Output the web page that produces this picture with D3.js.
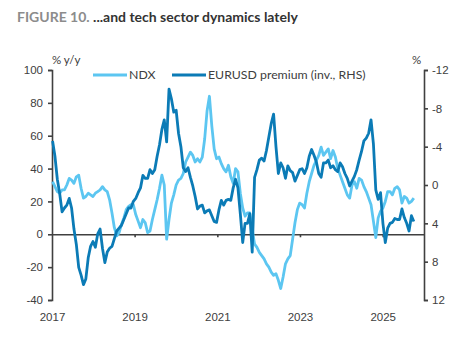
<!DOCTYPE html>
<html>
<head>
<meta charset="utf-8">
<script src="https://cdn.jsdelivr.net/npm/d3@7"></script>
<style>
  body { margin: 0; background: #fff; }
  svg { display: block; font-family: Lato, "Open Sans", sans-serif; }
  .axis text { font-size: 11.5px; fill: #404040; }
  .axis path, .axis line { stroke: #404040; stroke-width: 1.6px; }
</style>
</head>
<body>
<div id="chart"></div>
<script>
// 3-weekly observations starting 2017-01-06
const startDate = '2017-01-06';
const stepDays = 21;

// NDX, % y/y (left axis)
const ndx = [
  32, 29, 26, 25, 27, 27, 30, 34, 33, 31, 35, 36, 28, 22, 23, 25, 24, 23, 25, 26,
  27, 29, 27, 26, 21, 13, 4, -1, 1, 6, 10, 15, 17, 18, 18, 12, 8, 4, 9, 7,
  1, 2, 9, 15, 21, 28, 36, 30, -3, 9, 19, 24, 30, 33, 34, 37, 44, 47, 50, 48,
  44, 46, 44, 47, 58, 75, 84, 66, 52, 46, 47, 43, 40, 38, 42, 35, 31, 40, 38, 25,
  16, 11, 13, 13, 3, -6, -8, -11, -13, -15, -18, -20, -23, -25, -24, -28, -33, -26, -18, -15,
  -13, -3, 7, 15, 19, 18, 16, 25, 32, 37, 42, 45, 48, 53, 48, 50, 52, 46, 51, 47,
  40, 36, 32, 28, 24, 22, 30, 32, 28, 34, 33, 29, 26, 22, 18, 8, -2, 10, 14, 16,
  20, 26, 26, 24, 28, 29, 27, 19, 23, 22, 19, 20, 22
];

// EURUSD premium, % (right axis, inverted)
const eurusd = [
  -4.6, -3.0, -0.6, 0.9, 2.8, 2.4, 2.1, 1.4, 2.4, 4.6, 6.2, 8.6, 9.4, 10.4, 9.8, 7.6, 6.4, 5.9, 6.5, 5.1,
  4.6, 6.6, 8.1, 7.0, 6.6, 6.4, 5.6, 4.8, 4.5, 4.2, 3.6, 3.0, 2.4, 2.4, 1.7, 1.4, 0.8, 0.3, -1.0, -0.7,
  -0.7, -1.6, -1.2, -1.6, -3.0, -4.2, -5.8, -6.8, -4.5, -10.0, -9.0, -7.6, -7.8, -5.4, -4.0, -1.8, -1.4, -1.8, -0.8, 0.1,
  1.2, 2.5, 2.2, 2.1, 2.9, 2.7, 2.6, 3.2, 3.8, 3.9, 2.6, 1.6, 2.1, 1.6, 1.5, 1.6, 0.3, -0.6, 0.3, 3.0,
  6.0, 4.0, 4.0, 3.0, 7.0, -0.8, -1.6, -2.6, -2.8, -2.5, -3.6, -5.0, -6.4, -7.4, -4.0, -1.2, -2.3, -1.8, -0.7, -2.0,
  -1.5, -1.3, -0.4, -1.0, -1.6, -1.7, -1.2, -1.8, -3.0, -3.7, -3.1, -2.4, -1.2, -0.8, -2.3, -2.3, -2.6, -1.8, -2.0, -1.6,
  -1.4, -2.3, -1.9, -1.2, -0.7, 0.1, -0.4, -0.9, -1.6, -2.6, -3.5, -4.6, -4.9, -5.4, -6.8, -4.3, 0.5, 1.5, 0.8, 4.0,
  6.0, 4.5, 4.0, 3.9, 3.5, 3.6, 3.6, 2.5, 3.4, 4.0, 4.8, 3.2, 3.8
];

const leftTicks = [-40, -20, 0, 20, 40, 60, 80, 100];
const rightTicks = [-12, -8, -4, 0, 4, 8, 12];
const yearLabels = [2017, 2019, 2021, 2023, 2025];
const seriesNames = ['NDX', 'EURUSD premium (inv., RHS)'];
const colors = ['#5cc6f1', '#0b7bb6'];

const width = 475, height = 338;
const svg = d3.select('#chart').append('svg').attr('width', width).attr('height', height);

const t0 = d3.isoParse(startDate);
const dates = ndx.map((d, i) => d3.timeDay.offset(t0, i * stepDays));

const x = d3.scaleTime().domain([new Date(2017, 0, 1), new Date(2026, 0, 1)]).range([52, 424]);
const yL = d3.scaleLinear().domain([-40, 100]).range([300, 70]);
const yR = d3.scaleLinear().domain([12, -12]).range([300, 70]);

// title
const title = svg.append('text').attr('x', 17).attr('y', 22)
  .style('font-size', '14px').style('font-weight', 'bold');
title.append('tspan').attr('fill', '#8c8c8c').text('FIGURE 10. ');
title.append('tspan').attr('fill', '#333').text('...and tech sector dynamics lately');

// unit labels
svg.append('text').attr('x', 52).attr('y', 64).attr('fill', '#404040').style('font-size', '11.5px').text('% y/y');
svg.append('text').attr('x', 412).attr('y', 64).attr('fill', '#404040').style('font-size', '11.5px').text('%');

// axes
svg.append('g').attr('class', 'axis').attr('transform', 'translate(52,0)')
  .call(d3.axisLeft(yL).tickValues(leftTicks).tickSize(4).tickPadding(5).tickFormat(d => String(d)));
svg.append('g').attr('class', 'axis').attr('transform', 'translate(424,0)')
  .call(d3.axisRight(yR).tickValues(rightTicks).tickSize(4).tickPadding(4).tickFormat(d => String(d)));

// zero line with year ticks
svg.append('g').attr('class', 'axis').attr('transform', `translate(0,${yL(0)})`)
  .call(d3.axisBottom(x).tickValues(yearLabels.slice(1).map(y => new Date(y, 0, 1)))
    .tickSize(3).tickSizeOuter(0).tickFormat(''));

// year labels
const xa = svg.append('g').attr('class', 'axis').attr('transform', 'translate(0,300)')
  .call(d3.axisBottom(x).tickValues(yearLabels.map(y => new Date(y, 0, 1)))
    .tickSize(0).tickPadding(13).tickFormat(d3.timeFormat('%Y')));
xa.select('.domain').remove();

// lines
const lineL = d3.line().x((d, i) => x(dates[i])).y(d => yL(d));
const lineR = d3.line().x((d, i) => x(dates[i])).y(d => yR(d));

svg.append('path').datum(ndx).attr('d', lineL)
  .attr('fill', 'none').attr('stroke', colors[0]).attr('stroke-width', 2.8).attr('stroke-linejoin', 'round');
svg.append('path').datum(eurusd).attr('d', lineR)
  .attr('fill', 'none').attr('stroke', colors[1]).attr('stroke-width', 2.8).attr('stroke-linejoin', 'round');

// legend
const legendX = [93, 172];
const leg = svg.append('g').selectAll('g').data(seriesNames).enter().append('g')
  .attr('transform', (d, i) => `translate(${legendX[i]},75)`);
leg.append('line').attr('x1', 0).attr('x2', 34).attr('stroke', (d, i) => colors[i]).attr('stroke-width', 3);
leg.append('text').attr('x', 36).attr('y', 4).attr('fill', '#404040').style('font-size', '12.3px').text(d => d);
</script>
</body>
</html>
